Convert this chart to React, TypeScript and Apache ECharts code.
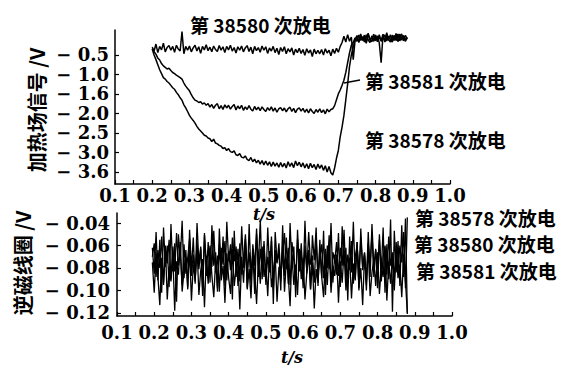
import React, { useEffect, useRef } from "react";
import * as echarts from "echarts";

// ---------- data ----------
const X_MIN = 0.1;
const X_MAX = 1.0;
const X_STEP = 0.1;

const TOP_Y_TICKS = [-0.5, -1.0, -1.5, -2.0, -2.5, -3.0, -3.5];
const TOP_Y_LABELS = ["− 0.5", "− 1.0", "− 1.6", "− 2.0", "− 2.5", "− 3.0", "− 3.6"];
const BOT_Y_TICKS = [-0.04, -0.06, -0.08, -0.1, -0.12];
const BOT_Y_LABELS = ["− 0.04", "− 0.06", "− 0.08", "− 0.10", "− 0.12"];

// heating-field signal (V), sampled every 5 ms starting at t = 0.200 s
const TOP_T0 = 0.2;
const TOP_DT = 0.005;
const HEAT_38580 = [
  -0.30, -0.40, -0.22, -0.44, -0.28, -0.37, -0.20, -0.42, -0.31, -0.26,
  -0.38, -0.28, -0.43, -0.25, -0.35, -0.40, 0.10, -0.47, -0.28, -0.38,
  -0.27, -0.42, -0.32, -0.25, -0.40, -0.29, -0.46, -0.28, -0.37, -0.24,
  -0.39, -0.30, -0.42, -0.27, -0.36, -0.41, -0.26, -0.38, -0.29, -0.44,
  -0.28, -0.37, -0.25, -0.40, -0.31, -0.45, -0.29, -0.38, -0.27, -0.42,
  -0.32, -0.26, -0.41, -0.30, -0.47, -0.28, -0.39, -0.31, -0.43, -0.27,
  -0.38, -0.29, -0.46, -0.32, -0.40, -0.28, -0.44, -0.33, -0.49, -0.31,
  -0.41, -0.29, -0.47, -0.34, -0.42, -0.32, -0.50, -0.35, -0.44, -0.33,
  -0.46, -0.36, -0.51, -0.34, -0.45, -0.37, -0.54, -0.35, -0.47, -0.38,
  -0.47, -0.36, -0.50, -0.34, -0.45, -0.38, -0.52, -0.35, -0.46, -0.33,
  -0.43, -0.28, -0.18, -0.02, -0.17, 0.02, -0.15, -0.04, -0.62, -0.12,
  0.00, -0.18, 0.04, -0.12, 0.01, -0.20, 0.06, -0.10, -0.16, 0.03,
  -0.14, -0.01, -0.19, -0.70, 0.02, -0.15, 0.07, -0.11, -0.17, 0.01,
  -0.13, 0.05, -0.16, -0.03, 0.04, -0.14, 0.00, -0.08,
];
const HEAT_38581 = [
  -0.35, -0.42, -0.48, -0.58, -0.63, -0.72, -0.78, -0.82, -0.86, -0.84,
  -0.90, -0.95, -0.98, -1.02, -1.05, -1.08, -1.12, -1.22, -1.30, -1.36,
  -1.42, -1.52, -1.60, -1.66, -1.68, -1.72, -1.70, -1.76, -1.73, -1.79,
  -1.75, -1.84, -1.77, -1.87, -1.79, -1.75, -1.88, -1.80, -1.90, -1.78,
  -1.86, -1.79, -1.89, -1.82, -1.77, -1.91, -1.81, -1.88, -1.79, -1.92,
  -1.83, -1.90, -1.80, -1.89, -1.94, -1.82, -1.91, -1.84, -1.93, -1.83,
  -1.90, -1.95, -1.85, -1.92, -1.83, -1.94, -1.86, -1.97, -1.88, -1.85,
  -1.93, -1.86, -1.96, -1.88, -1.84, -1.95, -1.87, -1.98, -1.89, -1.86,
  -1.94, -1.87, -1.97, -1.89, -1.99, -1.88, -1.95, -2.00, -1.90, -1.97,
  -1.88, -1.98, -1.91, -2.01, -1.89, -1.96, -1.90, -1.88, -1.80, -1.65,
  -1.50, -1.40, -1.28, -1.15, -0.95, -0.70, -0.45, -0.25, -0.18, -0.06,
  -0.15, 0.01, -0.13, -0.03, -0.17, 0.02, -0.11, -0.18, -0.01, -0.12,
  0.01, -0.16, -0.04, -0.13, 0.03, -0.17, -0.02, -0.12, 0.02, -0.15,
  -0.01, -0.11, 0.04, -0.14, -0.04, 0.00, -0.12, -0.05,
];
const HEAT_38578 = [
  -0.35, -0.50, -0.62, -0.75, -0.88, -0.98, -1.08, -1.12, -1.18, -1.22,
  -1.28, -1.34, -1.38, -1.46, -1.52, -1.60, -1.66, -1.78, -1.86, -1.95,
  -2.05, -2.12, -2.18, -2.25, -2.33, -2.40, -2.45, -2.50, -2.56, -2.58,
  -2.63, -2.65, -2.72, -2.66, -2.76, -2.78, -2.82, -2.84, -2.90, -2.88,
  -2.95, -2.90, -2.98, -3.00, -2.96, -3.06, -3.08, -3.03, -3.12, -3.14,
  -3.09, -3.18, -3.21, -3.13, -3.24, -3.17, -3.27, -3.20, -3.30, -3.21,
  -3.32, -3.22, -3.33, -3.24, -3.36, -3.25, -3.35, -3.27, -3.38, -3.26,
  -3.37, -3.28, -3.40, -3.24, -3.36, -3.27, -3.39, -3.22, -3.34, -3.25,
  -3.37, -3.27, -3.40, -3.29, -3.42, -3.28, -3.39, -3.31, -3.44, -3.30,
  -3.41, -3.32, -3.46, -3.34, -3.50, -3.36, -3.52, -3.58, -3.40, -3.15,
  -2.95, -2.60, -2.35, -2.05, -1.65, -1.25, -0.80, -0.50, -0.30, -0.10,
  -0.04, -0.16, 0.00, -0.13, -0.03, -0.18, 0.03, -0.12, -0.05, -0.15,
  -0.02, -0.12, 0.02, -0.15, -0.05, 0.01, -0.14, -0.02, -0.10, -0.17,
  0.00, -0.13, -0.04, 0.03, -0.12, -0.02, -0.15, -0.06,
];

// diamagnetic-coil signal (V), sampled every 5 ms starting at t = 0.195 s
const BOT_T0 = 0.195;
const BOT_DT = 0.005;
const DIA_38578 = [
  -0.062, -0.085, -0.048, -0.091, -0.055, -0.102, -0.044, -0.079, -0.060, -0.097,
  -0.041, -0.083, -0.058, -0.110, -0.050, -0.072, -0.038, -0.089, -0.064, -0.099,
  -0.046, -0.081, -0.053, -0.094, -0.040, -0.076, -0.061, -0.105, -0.049, -0.087,
  -0.057, -0.093, -0.042, -0.078, -0.066, -0.101, -0.045, -0.084, -0.052, -0.096,
  -0.039, -0.074, -0.059, -0.108, -0.047, -0.088, -0.063, -0.092, -0.043, -0.080,
  -0.054, -0.098, -0.041, -0.086, -0.067, -0.103, -0.050, -0.077, -0.037, -0.090,
  -0.060, -0.095, -0.044, -0.082, -0.056, -0.112, -0.048, -0.075, -0.065, -0.100,
  -0.042, -0.087, -0.053, -0.094, -0.040, -0.079, -0.061, -0.106, -0.046, -0.083,
  -0.058, -0.091, -0.038, -0.085, -0.064, -0.099, -0.051, -0.073, -0.044, -0.096,
  -0.055, -0.089, -0.047, -0.104, -0.060, -0.081, -0.040, -0.093, -0.068, -0.086,
  -0.049, -0.097, -0.043, -0.078, -0.062, -0.109, -0.052, -0.084, -0.039, -0.091,
  -0.057, -0.100, -0.045, -0.082, -0.066, -0.095, -0.048, -0.088, -0.041, -0.079,
  -0.063, -0.098, -0.050, -0.085, -0.044, -0.102, -0.059, -0.090, -0.037, -0.119,
  -0.047, -0.084, -0.056, -0.096, -0.042, -0.088, -0.036, -0.121,
];
const DIA_38580 = [
  -0.070, -0.058, -0.088, -0.064, -0.080, -0.052, -0.093, -0.067, -0.076, -0.055,
  -0.090, -0.061, -0.083, -0.049, -0.078, -0.066, -0.095, -0.059, -0.085, -0.071,
  -0.054, -0.087, -0.068, -0.092, -0.057, -0.081, -0.063, -0.097, -0.051, -0.075,
  -0.089, -0.060, -0.079, -0.047, -0.084, -0.069, -0.101, -0.062, -0.077, -0.056,
  -0.091, -0.065, -0.082, -0.053, -0.074, -0.061, -0.096, -0.058, -0.086, -0.072,
  -0.050, -0.083, -0.066, -0.094, -0.059, -0.078, -0.045, -0.088, -0.063, -0.080,
  -0.056, -0.092, -0.070, -0.084, -0.052, -0.099, -0.064, -0.076, -0.058, -0.087,
  -0.068, -0.049, -0.081, -0.062, -0.095, -0.057, -0.073, -0.090, -0.054, -0.079,
  -0.065, -0.098, -0.060, -0.083, -0.048, -0.077, -0.069, -0.093, -0.055, -0.085,
  -0.071, -0.059, -0.089, -0.063, -0.080, -0.051, -0.097, -0.066, -0.074, -0.057,
  -0.087, -0.062, -0.078, -0.046, -0.091, -0.068, -0.082, -0.056, -0.094, -0.070,
  -0.060, -0.085, -0.053, -0.079, -0.067, -0.100, -0.058, -0.076, -0.049, -0.088,
  -0.064, -0.081, -0.055, -0.092, -0.070, -0.061, -0.086, -0.052, -0.078, -0.066,
  -0.090, -0.057, -0.083, -0.060, -0.075, -0.048, -0.098, -0.035,
];
const DIA_38581 = [
  -0.075, -0.102, -0.066, -0.088, -0.113, -0.071, -0.095, -0.060, -0.108, -0.079,
  -0.092, -0.068, -0.118, -0.074, -0.086, -0.057, -0.101, -0.083, -0.070, -0.097,
  -0.064, -0.109, -0.077, -0.090, -0.061, -0.104, -0.082, -0.072, -0.115, -0.069,
  -0.094, -0.062, -0.087, -0.106, -0.073, -0.098, -0.059, -0.091, -0.078, -0.111,
  -0.067, -0.089, -0.103, -0.063, -0.096, -0.080, -0.074, -0.117, -0.070, -0.093,
  -0.058, -0.099, -0.081, -0.107, -0.066, -0.085, -0.112, -0.072, -0.094, -0.061,
  -0.088, -0.076, -0.105, -0.065, -0.097, -0.083, -0.069, -0.110, -0.079, -0.092,
  -0.060, -0.101, -0.073, -0.086, -0.114, -0.068, -0.095, -0.077, -0.104, -0.063,
  -0.090, -0.071, -0.108, -0.084, -0.066, -0.099, -0.075, -0.116, -0.081, -0.093,
  -0.062, -0.088, -0.106, -0.070, -0.095, -0.059, -0.102, -0.078, -0.087, -0.068,
  -0.111, -0.074, -0.093, -0.064, -0.100, -0.082, -0.071, -0.107, -0.076, -0.090,
  -0.057, -0.098, -0.080, -0.113, -0.069, -0.091, -0.063, -0.105, -0.084, -0.072,
  -0.096, -0.066, -0.103, -0.079, -0.088, -0.060, -0.109, -0.074, -0.094, -0.070,
  -0.100, -0.065, -0.089, -0.077, -0.106, -0.068, -0.092, -0.120,
];

const TOP_NAMES = ["第 38580 次放电", "第 38581 次放电", "第 38578 次放电"];
const BOT_NAMES = ["第 38578 次放电", "第 38580 次放电", "第 38581 次放电"];
const Y_TITLES = ["加热场信号 /V", "逆磁线圈 /V"];
const X_TITLE = "t/s";

// ---------- helpers ----------
function pairs(t0: number, dt: number, ys: number[]) {
  return ys.map((y, i) => [Number((t0 + i * dt).toFixed(3)), y]);
}

const NUM_FONT = "DejaVu Serif";
const CJK_FONT = "Noto Sans CJK SC";

function xAxis(gridIndex: number, margin: number) {
  return {
    type: "value",
    gridIndex,
    min: X_MIN,
    max: X_MAX,
    interval: X_STEP,
    axisLine: { show: true, onZero: false, lineStyle: { color: "#000", width: 1.5 } },
    axisTick: { show: true, inside: true, length: 4, lineStyle: { color: "#000", width: 1.2 } },
    minorTick: { show: true, splitNumber: 2, length: 4, lineStyle: { color: "#000", width: 1.2 } },
    splitLine: { show: false },
    axisLabel: {
      color: "#000",
      fontFamily: NUM_FONT,
      fontWeight: "bold",
      fontSize: 18,
      lineHeight: 18,
      margin,
      formatter: (v: number) => v.toFixed(1),
    },
  };
}

function yAxis(gridIndex: number, min: number, max: number, ticks: number[], labels: string[], margin: number) {
  return {
    type: "value",
    gridIndex,
    min,
    max,
    axisLine: { show: true, onZero: false, lineStyle: { color: "#000", width: 1.5 } },
    axisTick: {
      show: true,
      inside: true,
      length: 4,
      customValues: ticks,
      lineStyle: { color: "#000", width: 1.2 },
    },
    splitLine: { show: false },
    axisLabel: {
      color: "#000",
      fontFamily: NUM_FONT,
      fontWeight: "bold",
      fontSize: 18,
      lineHeight: 18,
      margin,
      customValues: ticks,
      formatter: (v: number) => {
        let best = 0;
        for (let i = 0; i < ticks.length; i++) {
          if (Math.abs(ticks[i] - v) < Math.abs(ticks[best] - v)) best = i;
        }
        return labels[best];
      },
    },
  };
}

function line(name: string, data: number[][], gridIdx: number, width: number) {
  return {
    name,
    type: "line",
    xAxisIndex: gridIdx,
    yAxisIndex: gridIdx,
    data,
    showSymbol: false,
    symbol: "none",
    silent: true,
    lineStyle: { color: "#000", width },
  };
}

function cjkText(text: string, x: number, y: number) {
  return {
    type: "text",
    x,
    y,
    style: {
      text,
      fill: "#000",
      fontFamily: CJK_FONT,
      fontWeight: "bold",
      fontSize: 19,
      lineHeight: 19,
      verticalAlign: "middle",
      align: "left",
    },
  };
}

function italicTitle(x: number, y: number) {
  return {
    type: "text",
    x,
    y,
    style: {
      text: X_TITLE,
      fill: "#000",
      fontFamily: NUM_FONT,
      fontStyle: "italic",
      fontWeight: "bold",
      fontSize: 16,
      lineHeight: 16,
      align: "center",
      verticalAlign: "middle",
    },
  };
}

function yTitle(text: string, x: number, y: number) {
  return {
    type: "text",
    x,
    y,
    rotation: Math.PI / 2,
    style: {
      text,
      fill: "#000",
      fontFamily: CJK_FONT,
      fontWeight: "bold",
      fontSize: 20,
      lineHeight: 20,
      align: "center",
      verticalAlign: "middle",
    },
  };
}

export default function App() {
  const ref = useRef<HTMLDivElement>(null);

  useEffect(() => {
    if (!ref.current) return;
    const chart = echarts.init(ref.current, undefined, { renderer: "svg" });
    const option = {
      animation: false,
      backgroundColor: "#fff",
      grid: [
        { left: 115, top: 30, width: 335, height: 154, containLabel: false },
        { left: 117, top: 213, width: 335, height: 103, containLabel: false },
      ],
      xAxis: [xAxis(0, 2), xAxis(1, 7)],
      yAxis: [
        yAxis(0, -3.81, 0.14, TOP_Y_TICKS, TOP_Y_LABELS, 6),
        yAxis(1, -0.1227, -0.0311, BOT_Y_TICKS, BOT_Y_LABELS, 7),
      ],
      series: [
        line(TOP_NAMES[0], pairs(TOP_T0, TOP_DT, HEAT_38580), 0, 1.5),
        line(TOP_NAMES[1], pairs(TOP_T0, TOP_DT, HEAT_38581), 0, 1.5),
        line(TOP_NAMES[2], pairs(TOP_T0, TOP_DT, HEAT_38578), 0, 1.5),
        line(BOT_NAMES[0], pairs(BOT_T0, BOT_DT, DIA_38578), 1, 1.3),
        line(BOT_NAMES[1], pairs(BOT_T0, BOT_DT, DIA_38580), 1, 1.3),
        line(BOT_NAMES[2], pairs(BOT_T0, BOT_DT, DIA_38581), 1, 1.3),
      ],
      graphic: [
        cjkText(TOP_NAMES[0], 190, 24),
        cjkText(TOP_NAMES[1], 365, 80),
        cjkText(TOP_NAMES[2], 365, 139),
        cjkText(BOT_NAMES[0], 415, 217),
        cjkText(BOT_NAMES[1], 414, 243),
        cjkText(BOT_NAMES[2], 416, 270),
        {
          type: "line",
          shape: { x1: 344, y1: 83, x2: 360, y2: 80 },
          style: { stroke: "#000", lineWidth: 1.3 },
        },
        yTitle(Y_TITLES[0], 36, 110),
        yTitle(Y_TITLES[1], 22, 263),
        italicTitle(264, 214),
        italicTitle(292, 357),
      ],
    };
    chart.setOption(option as any);
    return () => chart.dispose();
  }, []);

  return (
    <div
      ref={ref}
      style={{ position: "fixed", left: 0, top: 0, width: 575, height: 366, background: "#fff" }}
    />
  );
}
